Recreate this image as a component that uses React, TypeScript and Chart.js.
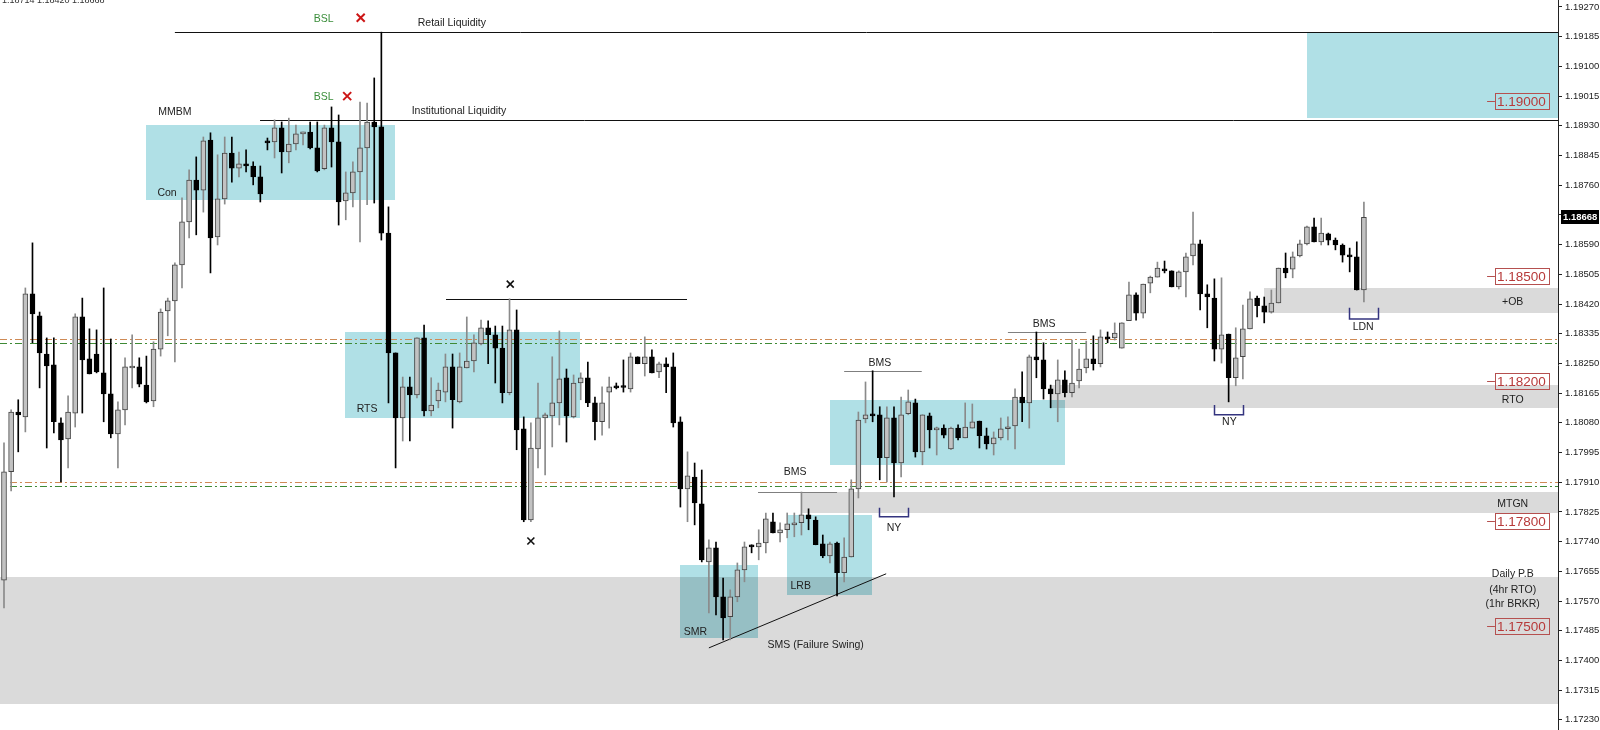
import React, { useEffect, useRef } from 'react';
import { Chart, registerables } from 'chart.js';

Chart.register(...registerables);

// ---------------- Candle data (EURUSD) ----------------
const OPEN = [
  1.17630, 1.17940, 1.18111, 1.18097, 1.18449, 1.18386, 1.18277, 1.18246, 1.18080, 1.18034,
  1.18108, 1.18383, 1.18263, 1.18277, 1.18223, 1.18163, 1.18048, 1.18117, 1.18237, 1.18240,
  1.18188, 1.18143, 1.18291, 1.18400, 1.18429, 1.18532, 1.18655, 1.18775, 1.18746, 1.18889,
  1.18612, 1.18721, 1.18852, 1.18809, 1.18821, 1.18815, 1.18784, 1.18884, 1.18884, 1.18924,
  1.18855, 1.18878, 1.18907, 1.18912, 1.18867, 1.18807, 1.18924, 1.18884, 1.18715, 1.18738,
  1.18798, 1.18867, 1.18941, 1.18927, 1.18623, 1.18280, 1.18094, 1.18183, 1.18160, 1.18323,
  1.18114, 1.18143, 1.18168, 1.18240, 1.18140, 1.18237, 1.18257, 1.18306, 1.18352, 1.18332,
  1.18294, 1.18166, 1.18346, 1.18063, 1.17802, 1.18005, 1.18094, 1.18100, 1.18137, 1.18209,
  1.18097, 1.18194, 1.18209, 1.18137, 1.18083, 1.18168, 1.18183, 1.18183, 1.18177, 1.18269,
  1.18249, 1.18269, 1.18226, 1.18249, 1.18240, 1.18083, 1.17891, 1.17925, 1.17848, 1.17682,
  1.17722, 1.17582, 1.17525, 1.17582, 1.17659, 1.17728, 1.17725, 1.17736, 1.17797, 1.17765,
  1.17774, 1.17788, 1.17794, 1.17817, 1.17802, 1.17734, 1.17699, 1.17736, 1.17651, 1.17696,
  1.17891, 1.18091, 1.18103, 1.18103, 1.17980, 1.18094, 1.17965, 1.18106, 1.18137, 1.17997,
  1.18100, 1.18060, 1.18065, 1.18005, 1.18065, 1.18037, 1.18065, 1.18085, 1.18043, 1.18020,
  1.18037, 1.18063, 1.18071, 1.18154, 1.18137, 1.18269, 1.18260, 1.18177, 1.18163, 1.18203,
  1.18166, 1.18200, 1.18237, 1.18263, 1.18249, 1.18326, 1.18323, 1.18294, 1.18372, 1.18446,
  1.18394, 1.18480, 1.18497, 1.18520, 1.18515, 1.18469, 1.18512, 1.18558, 1.18592, 1.18449,
  1.18437, 1.18291, 1.18334, 1.18209, 1.18269, 1.18349, 1.18437, 1.18415, 1.18397, 1.18423,
  1.18523, 1.18520, 1.18558, 1.18592, 1.18641, 1.18598, 1.18621, 1.18603, 1.18589, 1.18560,
  1.18555, 1.18460,
];
const HIGH = [
  1.18023, 1.18117, 1.18146, 1.18466, 1.18595, 1.18397, 1.18323, 1.18323, 1.18094, 1.18157,
  1.18392, 1.18437, 1.18349, 1.18346, 1.18466, 1.18320, 1.18140, 1.18266, 1.18332, 1.18266,
  1.18271, 1.18312, 1.18406, 1.18437, 1.18538, 1.18724, 1.18804, 1.18841, 1.18898, 1.18910,
  1.18847, 1.18898, 1.18898, 1.18855, 1.18861, 1.18827, 1.18815, 1.18895, 1.18947, 1.18941,
  1.18952, 1.18932, 1.18912, 1.18941, 1.18941, 1.18932, 1.18984, 1.18961, 1.18798, 1.18827,
  1.18998, 1.18995, 1.19067, 1.19198, 1.18698, 1.18280, 1.18211, 1.18211, 1.18323, 1.18360,
  1.18209, 1.18194, 1.18277, 1.18277, 1.18280, 1.18383, 1.18332, 1.18374, 1.18372, 1.18357,
  1.18357, 1.18435, 1.18403, 1.18097, 1.18080, 1.18194, 1.18108, 1.18269, 1.18343, 1.18234,
  1.18217, 1.18223, 1.18254, 1.18154, 1.18183, 1.18211, 1.18194, 1.18260, 1.18280, 1.18269,
  1.18326, 1.18289, 1.18254, 1.18266, 1.18280, 1.18097, 1.17997, 1.17965, 1.17945, 1.17745,
  1.17739, 1.17636, 1.17602, 1.17679, 1.17739, 1.17731, 1.17774, 1.17822, 1.17822, 1.17794,
  1.17822, 1.17822, 1.17882, 1.17834, 1.17811, 1.17759, 1.17739, 1.17739, 1.17751, 1.17917,
  1.18111, 1.18197, 1.18229, 1.18126, 1.18126, 1.18126, 1.18154, 1.18174, 1.18148, 1.18103,
  1.18108, 1.18068, 1.18074, 1.18068, 1.18074, 1.18137, 1.18134, 1.18085, 1.18065, 1.18054,
  1.18094, 1.18097, 1.18177, 1.18226, 1.18274, 1.18340, 1.18309, 1.18188, 1.18260, 1.18229,
  1.18317, 1.18291, 1.18314, 1.18329, 1.18346, 1.18340, 1.18366, 1.18366, 1.18483, 1.18452,
  1.18477, 1.18500, 1.18540, 1.18543, 1.18515, 1.18515, 1.18566, 1.18683, 1.18603, 1.18475,
  1.18492, 1.18495, 1.18334, 1.18352, 1.18417, 1.18455, 1.18443, 1.18440, 1.18460, 1.18523,
  1.18566, 1.18569, 1.18603, 1.18643, 1.18666, 1.18666, 1.18623, 1.18609, 1.18592, 1.18580,
  1.18598, 1.18712,
];
const LOW = [
  1.17550, 1.17885, 1.17997, 1.18054, 1.18309, 1.18180, 1.18008, 1.18051, 1.17911, 1.17951,
  1.18068, 1.18108, 1.18220, 1.18223, 1.18083, 1.18037, 1.17951, 1.18074, 1.18180, 1.18183,
  1.18137, 1.18126, 1.18271, 1.18329, 1.18254, 1.18466, 1.18609, 1.18618, 1.18683, 1.18509,
  1.18589, 1.18706, 1.18769, 1.18784, 1.18798, 1.18761, 1.18712, 1.18861, 1.18838, 1.18795,
  1.18824, 1.18861, 1.18875, 1.18864, 1.18798, 1.18804, 1.18812, 1.18646, 1.18661, 1.18698,
  1.18598, 1.18704, 1.18709, 1.18603, 1.18137, 1.17951, 1.18028, 1.18028, 1.18151, 1.18100,
  1.18100, 1.18123, 1.18140, 1.18065, 1.18137, 1.18237, 1.18226, 1.18303, 1.18249, 1.18194,
  1.18137, 1.18160, 1.18003, 1.17797, 1.17797, 1.17951, 1.17931, 1.18011, 1.18074, 1.18025,
  1.18094, 1.18146, 1.18126, 1.18031, 1.18045, 1.18065, 1.18177, 1.18168, 1.18168, 1.18249,
  1.18214, 1.18223, 1.18209, 1.18166, 1.18068, 1.17839, 1.17797, 1.17788, 1.17682, 1.17536,
  1.17530, 1.17459, 1.17459, 1.17568, 1.17625, 1.17708, 1.17688, 1.17708, 1.17765, 1.17739,
  1.17751, 1.17754, 1.17759, 1.17774, 1.17731, 1.17694, 1.17679, 1.17585, 1.17625, 1.17696,
  1.17865, 1.18080, 1.18083, 1.17917, 1.17911, 1.17868, 1.17925, 1.18103, 1.17982, 1.17960,
  1.18008, 1.17988, 1.18037, 1.18003, 1.18031, 1.18037, 1.18065, 1.18008, 1.18005, 1.17988,
  1.18031, 1.18031, 1.18005, 1.18083, 1.18065, 1.18209, 1.18148, 1.18123, 1.18083, 1.18154,
  1.18154, 1.18180, 1.18223, 1.18231, 1.18240, 1.18309, 1.18317, 1.18294, 1.18372, 1.18374,
  1.18380, 1.18452, 1.18497, 1.18509, 1.18469, 1.18463, 1.18440, 1.18532, 1.18403, 1.18352,
  1.18257, 1.18251, 1.18140, 1.18186, 1.18206, 1.18349, 1.18383, 1.18366, 1.18394, 1.18423,
  1.18495, 1.18495, 1.18555, 1.18589, 1.18598, 1.18589, 1.18589, 1.18575, 1.18540, 1.18512,
  1.18460, 1.18426,
];
const CLOSE = [
  1.17940, 1.18111, 1.18103, 1.18449, 1.18392, 1.18280, 1.18243, 1.18083, 1.18031, 1.18111,
  1.18383, 1.18260, 1.18220, 1.18226, 1.18163, 1.18048, 1.18117, 1.18240, 1.18240, 1.18191,
  1.18140, 1.18291, 1.18397, 1.18429, 1.18532, 1.18655, 1.18775, 1.18746, 1.18887, 1.18609,
  1.18721, 1.18852, 1.18809, 1.18821, 1.18815, 1.18784, 1.18735, 1.18881, 1.18924, 1.18855,
  1.18878, 1.18907, 1.18912, 1.18867, 1.18801, 1.18924, 1.18884, 1.18712, 1.18738, 1.18798,
  1.18867, 1.18941, 1.18927, 1.18623, 1.18280, 1.18094, 1.18183, 1.18160, 1.18323, 1.18114,
  1.18131, 1.18174, 1.18240, 1.18146, 1.18240, 1.18257, 1.18309, 1.18352, 1.18332, 1.18294,
  1.18166, 1.18346, 1.18060, 1.17802, 1.18008, 1.18094, 1.18103, 1.18137, 1.18206, 1.18100,
  1.18194, 1.18209, 1.18137, 1.18083, 1.18137, 1.18183, 1.18180, 1.18181, 1.18269, 1.18249,
  1.18269, 1.18223, 1.18249, 1.18240, 1.18080, 1.17891, 1.17928, 1.17851, 1.17688, 1.17722,
  1.17582, 1.17522, 1.17582, 1.17659, 1.17725, 1.17725, 1.17736, 1.17805, 1.17765, 1.17774,
  1.17791, 1.17794, 1.17817, 1.17805, 1.17731, 1.17699, 1.17734, 1.17651, 1.17696, 1.17891,
  1.18088, 1.18103, 1.18100, 1.17980, 1.18094, 1.17965, 1.18103, 1.18140, 1.17997, 1.18103,
  1.18060, 1.18065, 1.18045, 1.18065, 1.18037, 1.18068, 1.18083, 1.18043, 1.18020, 1.18037,
  1.18063, 1.18068, 1.18154, 1.18137, 1.18269, 1.18260, 1.18177, 1.18163, 1.18203, 1.18166,
  1.18194, 1.18234, 1.18263, 1.18249, 1.18326, 1.18320, 1.18337, 1.18366, 1.18446, 1.18394,
  1.18477, 1.18497, 1.18523, 1.18515, 1.18469, 1.18512, 1.18555, 1.18592, 1.18449, 1.18440,
  1.18291, 1.18332, 1.18209, 1.18266, 1.18349, 1.18435, 1.18415, 1.18397, 1.18423, 1.18523,
  1.18509, 1.18555, 1.18592, 1.18641, 1.18598, 1.18623, 1.18603, 1.18589, 1.18560, 1.18555,
  1.18460, 1.18668,
];

// Price-axis tick labels
const Y_TICKS = [
  1.17230, 1.17315, 1.17400, 1.17485, 1.17570, 1.17655, 1.17740, 1.17825, 1.17910, 1.17995,
  1.18080, 1.18165, 1.18250, 1.18335, 1.18420, 1.18505, 1.18590, 1.18675, 1.18760, 1.18845,
  1.18930, 1.19015, 1.19100, 1.19185, 1.19270,
];
const Y_MIN = 1.17201;
const Y_MAX = 1.19290;
const X_MIN = -0.562;
const X_MAX = 218.26;

// Horizontal price levels with boxed labels
const LEVEL_LABELS = [1.19, 1.185, 1.182, 1.178, 1.175];
const LAST_PRICE = 1.18668;
const HEADER_TEXT = '1.18714 1.18420 1.18668';

// Zones: [fromIndex, toIndex (null = right edge), topPrice, bottomPrice]
const GRAY_ZONES: [number, number | null, number, number][] = [
  [-1, null, 1.17639, 1.17276], // Daily P.B
  [111.9, null, 1.17882, 1.17822], // MTGN
  [146.9, null, 1.18188, 1.18123], // RTO
  [176.97, null, 1.18466, 1.18394], // +OB
];
const CYAN_ZONES: [number, number | null, number, number][] = [
  [19.94, 54.92, 1.18932, 1.18718], // Con
  [47.89, 80.9, 1.1834, 1.18094], // RTS
  [94.94, 105.9, 1.17673, 1.17465], // SMR
  [109.97, 121.9, 1.17817, 1.17588], // LRB
  [116.0, 149.0, 1.18146, 1.1796], // BMS range
  [183.0, null, 1.19196, 1.18952], // target
];
// Solid horizontal lines: [from, to (null = edge), price, kind]
const SOLID_LINES: [number, number | null, number, string][] = [
  [24.0, null, 1.19198, 'black'], // Retail liquidity
  [35.96, null, 1.18947, 'black'], // Institutional liquidity
  [62.08, 95.93, 1.18435, 'black'],
  [105.9, 117.0, 1.17882, 'gray'], // BMS
  [118.0, 128.9, 1.18229, 'gray'], // BMS
  [141.0, 152.0, 1.1834, 'gray'], // BMS
];
const DASH_LINES: [number, number, string][] = [
  [-1, 1.1832, 'orange'],
  [-1, 1.18309, 'green'],
  [0.84, 1.17911, 'orange'],
  [0.84, 1.17899, 'green'],
];
const TREND_LINE: [number, number, number, number] = [99.0, 1.17436, 123.9, 1.17648];
// Session brackets: [from, to, topPrice, bottomPrice]
const BRACKETS: [number, number, number, number][] = [
  [122.9, 127.0, 1.17837, 1.17811],
  [169.9, 174.0, 1.18131, 1.18103],
  [188.9, 193.0, 1.18409, 1.18377],
];
// Cross marks: [index, price, kind]
const CROSSES: [number, number, string][] = [
  [50.1, 1.19239, 'red'],
  [48.2, 1.19015, 'red'],
  [71.1, 1.18477, 'black'],
  [74.0, 1.17742, 'black'],
];
// Text notes: [text, index, price, kind]
const NOTES: [string, number, number, string][] = [
  ['BSL', 44.9, 1.19236, 'green'],
  ['Retail Liquidity', 62.9, 1.19224, 'dark'],
  ['BSL', 44.9, 1.19012, 'green'],
  ['Institutional Liquidity', 63.9, 1.18972, 'dark'],
  ['MMBM', 24.0, 1.1897, 'dark'],
  ['Con', 22.9, 1.18738, 'dark'],
  ['RTS', 51.0, 1.1812, 'dark'],
  ['BMS', 111.1, 1.1794, 'dark'],
  ['BMS', 123.0, 1.18251, 'dark'],
  ['BMS', 146.1, 1.18363, 'dark'],
  ['SMR', 97.1, 1.17482, 'dark'],
  ['LRB', 111.9, 1.17613, 'dark'],
  ['SMS (Failure Swing)', 114.0, 1.17445, 'dark'],
  ['NY', 125.0, 1.17779, 'dark'],
  ['NY', 172.1, 1.18083, 'dark'],
  ['LDN', 190.9, 1.18354, 'dark'],
  ['MTGN', 211.9, 1.17848, 'dark'],
  ['+OB', 211.9, 1.18426, 'dark'],
  ['RTO', 211.9, 1.18146, 'dark'],
  ['Daily P.B', 211.9, 1.17648, 'dark'],
  ['(4hr RTO)', 211.9, 1.17602, 'dark'],
  ['(1hr BRKR)', 211.9, 1.17562, 'dark'],
];

const COLORS: Record<string, string> = {
  black: '#111111',
  gray: '#7f7f7f',
  orange: '#cf8a55',
  green: '#3e8a35',
  red: '#cc1515',
  dark: '#222222',
  textGreen: '#3a8d3a',
};
const UP_BODY = '#c2c2c2';
const UP_BORDER = '#444444';
const UP_WICK = '#8a8a8a';
const DOWN = '#000000';
const ZONE_GRAY = '#dadada';
const ZONE_CYAN = '#b0e0e6';
const FONT = '"Liberation Sans", Arial, sans-serif';

export default function App() {
  const ref = useRef<HTMLCanvasElement>(null);

  useEffect(() => {
    const canvas = ref.current;
    if (!canvas) return;
    const idx = OPEN.map((_, i) => i);
    const bull = idx.map((i) => CLOSE[i] >= OPEN[i]);

    const annotations = {
      id: 'smcAnnotations',
      beforeDraw(chart: any) {
        const c = chart.ctx;
        c.save();
        c.fillStyle = '#ffffff';
        c.fillRect(0, 0, chart.width, chart.height);
        c.restore();
      },
      beforeDatasetsDraw(chart: any) {
        const c = chart.ctx;
        const xs = chart.scales.x;
        const ys = chart.scales.y;
        const area = chart.chartArea;
        const X = (v: number | null) =>
          v === null ? area.right : Math.max(area.left, Math.min(area.right, xs.getPixelForValue(v)));
        const Y = (p: number) => ys.getPixelForValue(p);
        c.save();
        c.beginPath();
        c.rect(area.left, area.top, area.right - area.left, area.bottom - area.top);
        c.clip();
        c.globalCompositeOperation = 'multiply';
        const zone = (z: [number, number | null, number, number], col: string) => {
          const x0 = Math.round(X(z[0]));
          const x1 = Math.round(X(z[1]));
          const y0 = Math.round(Y(z[2]));
          const y1 = Math.round(Y(z[3]));
          c.fillStyle = col;
          c.fillRect(x0, y0, x1 - x0, y1 - y0);
        };
        GRAY_ZONES.forEach((z) => zone(z, ZONE_GRAY));
        CYAN_ZONES.forEach((z) => zone(z, ZONE_CYAN));
        c.globalCompositeOperation = 'source-over';

        // dash-dot levels
        c.lineWidth = 1;
        DASH_LINES.forEach(([from, p, kind]) => {
          const y = Math.round(Y(p)) + 0.5;
          c.strokeStyle = COLORS[kind];
          c.setLineDash([7, 3, 2, 3]);
          c.beginPath();
          c.moveTo(X(from), y);
          c.lineTo(area.right, y);
          c.stroke();
        });
        c.setLineDash([]);

        // solid levels
        SOLID_LINES.forEach(([from, to, p, kind]) => {
          const y = Math.round(Y(p)) + 0.5;
          c.strokeStyle = COLORS[kind];
          c.beginPath();
          c.moveTo(X(from), y);
          c.lineTo(X(to), y);
          c.stroke();
        });

        // trend line
        c.strokeStyle = COLORS.black;
        c.beginPath();
        c.moveTo(X(TREND_LINE[0]), Y(TREND_LINE[1]));
        c.lineTo(X(TREND_LINE[2]), Y(TREND_LINE[3]));
        c.stroke();
        c.restore();
      },
      afterDatasetsDraw(chart: any) {
        const c = chart.ctx;
        const xs = chart.scales.x;
        const ys = chart.scales.y;
        const X = (v: number) => xs.getPixelForValue(v);
        const Y = (p: number) => ys.getPixelForValue(p);
        c.save();

        // brackets
        c.strokeStyle = '#34347f';
        c.lineWidth = 1.5;
        BRACKETS.forEach(([a, b, top, bot]) => {
          c.beginPath();
          c.moveTo(Math.round(X(a)) + 0.5, Y(top));
          c.lineTo(Math.round(X(a)) + 0.5, Y(bot));
          c.lineTo(Math.round(X(b)) + 0.5, Y(bot));
          c.lineTo(Math.round(X(b)) + 0.5, Y(top));
          c.stroke();
        });

        // crosses
        CROSSES.forEach(([i, p, kind]) => {
          const x = X(i);
          const y = Y(p);
          const r = kind === 'red' ? 4 : 3.5;
          c.strokeStyle = COLORS[kind];
          c.lineWidth = kind === 'red' ? 2 : 1.6;
          c.beginPath();
          c.moveTo(x - r, y - r);
          c.lineTo(x + r, y + r);
          c.moveTo(x + r, y - r);
          c.lineTo(x - r, y + r);
          c.stroke();
        });

        // text notes
        c.font = `10.5px ${FONT}`;
        c.textAlign = 'center';
        c.textBaseline = 'middle';
        NOTES.forEach(([t, i, p, kind]) => {
          c.fillStyle = kind === 'green' ? COLORS.textGreen : COLORS.dark;
          c.fillText(t, X(i), Y(p));
        });

        // boxed level labels
        const tickStart = X(208.3);
        const boxLeft = X(209.4);
        const boxRight = X(217.0);
        LEVEL_LABELS.forEach((p) => {
          const y = Math.round(Y(p)) + 0.5;
          c.strokeStyle = '#b5504f';
          c.lineWidth = 1;
          c.beginPath();
          c.moveTo(tickStart, y);
          c.lineTo(boxLeft, y);
          c.stroke();
          c.fillStyle = 'rgba(255,255,255,0.0)';
          c.strokeRect(Math.round(boxLeft) + 0.5, y - 8, Math.round(boxRight - boxLeft), 16);
          c.fillStyle = '#b73a3a';
          c.font = `13.5px ${FONT}`;
          c.textAlign = 'left';
          c.fillText(p.toFixed(5), boxLeft + 2, y + 0.5);
        });

        // header text (partly cut at the top)
        c.font = `9px ${FONT}`;
        c.fillStyle = '#333333';
        c.textAlign = 'left';
        c.textBaseline = 'alphabetic';
        c.fillText(HEADER_TEXT, 2, 3);
        c.restore();
      },
      afterDraw(chart: any) {
        const c = chart.ctx;
        const ys = chart.scales.y;
        const area = chart.chartArea;
        const y = Math.round(ys.getPixelForValue(LAST_PRICE));
        c.save();
        c.fillStyle = '#000000';
        c.fillRect(area.right + 3, y - 7, chart.width - area.right - 4, 14);
        c.fillStyle = '#ffffff';
        c.font = `bold 9.5px ${FONT}`;
        c.textAlign = 'left';
        c.textBaseline = 'middle';
        c.fillText(LAST_PRICE.toFixed(5), area.right + 5, y + 0.5);
        c.restore();
      },
    };

    const chart = new Chart(canvas, {
      type: 'bar',
      data: {
        datasets: [
          {
            label: 'Wick',
            data: idx.map((i) => ({ x: i, y: [LOW[i], HIGH[i]] })) as any,
            backgroundColor: idx.map((i) => (bull[i] ? UP_WICK : DOWN)),
            borderWidth: 0,
            barThickness: 1,
            grouped: false,
            order: 2,
          } as any,
          {
            label: 'Body',
            data: idx.map((i) => ({ x: i, y: [OPEN[i], CLOSE[i]] })) as any,
            backgroundColor: idx.map((i) => (bull[i] ? UP_BODY : DOWN)),
            borderColor: idx.map((i) => (bull[i] ? UP_BORDER : DOWN)),
            borderWidth: 1,
            borderSkipped: false,
            barThickness: 5,
            minBarLength: 2,
            grouped: false,
            order: 1,
          } as any,
        ],
      },
      options: {
        responsive: false,
        animation: false,
        devicePixelRatio: 1,
        layout: { padding: 0 },
        plugins: { legend: { display: false }, tooltip: { enabled: false } },
        scales: {
          x: {
            type: 'linear',
            min: X_MIN,
            max: X_MAX,
            offset: false,
            display: false,
            grid: { offset: false },
          },
          y: {
            type: 'linear',
            position: 'right',
            min: Y_MIN,
            max: Y_MAX,
            bounds: 'data',
            beginAtZero: false,
            afterBuildTicks: (s: any) => {
              s.ticks = Y_TICKS.map((v) => ({ value: v }));
            },
            afterFit: (s: any) => {
              s.width = 42;
              s.paddingTop = 0;
              s.paddingBottom = 0;
            },
            ticks: {
              autoSkip: false,
              padding: 3,
              color: '#222222',
              font: { family: FONT, size: 9.5 },
              callback: (v: any) => Number(v).toFixed(5),
            },
            grid: { drawOnChartArea: false, drawTicks: true, tickLength: 4, color: '#222222' },
            border: { display: true, color: '#222222', width: 1 },
          },
        },
      } as any,
      plugins: [annotations],
    });

    return () => chart.destroy();
  }, []);

  return (
    <div style={{ position: 'fixed', left: 0, top: 0, width: 1600, height: 730, background: '#ffffff' }}>
      <canvas ref={ref} width={1600} height={730} style={{ display: 'block' }} />
    </div>
  );
}
